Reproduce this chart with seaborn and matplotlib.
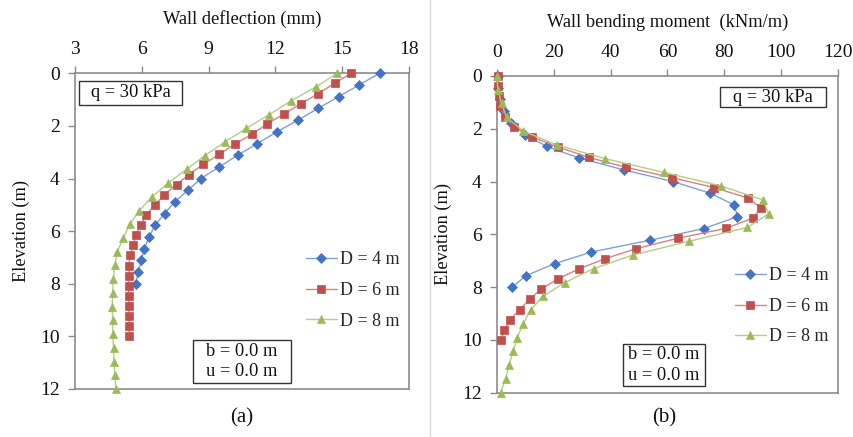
import numpy as np
import pandas as pd
import matplotlib
matplotlib.use("Agg")
import matplotlib.pyplot as plt
from matplotlib.lines import Line2D
from matplotlib.patches import Rectangle
import seaborn as sns

# ---------------- data ----------------
labels = ["D = 4 m", "D = 6 m", "D = 8 m"]

elev_d4 = [0.0, 0.44, 0.89, 1.33, 1.78, 2.22, 2.67, 3.11, 3.56, 4.0, 4.44, 4.89,
           5.33, 5.78, 6.22, 6.67, 7.11, 7.56, 8.0]
elev_d6 = [0.0, 0.38, 0.77, 1.15, 1.54, 1.92, 2.31, 2.69, 3.08, 3.46, 3.85, 4.23,
           4.62, 5.0, 5.38, 5.77, 6.15, 6.54, 6.92, 7.31, 7.69, 8.08, 8.46, 8.85,
           9.23, 9.62, 10.0]
elev_d8 = [0.0, 0.52, 1.04, 1.57, 2.09, 2.61, 3.13, 3.65, 4.17, 4.7, 5.22, 5.74,
           6.26, 6.78, 7.3, 7.83, 8.35, 8.87, 9.39, 9.91, 10.43, 10.96, 11.48, 12.0]

defl_d4 = [16.68, 15.76, 14.84, 13.92, 13.02, 12.08, 11.19, 10.31, 9.48, 8.65,
           8.08, 7.47, 7.02, 6.59, 6.33, 6.11, 5.98, 5.84, 5.72]
defl_d6 = [15.41, 14.66, 13.92, 13.17, 12.39, 11.64, 10.96, 10.18, 9.48, 8.76,
           8.11, 7.56, 7.01, 6.59, 6.19, 5.96, 5.74, 5.62, 5.47, 5.42, 5.42, 5.41,
           5.41, 5.41, 5.42, 5.43, 5.43]
defl_d8 = [14.78, 13.81, 12.72, 11.72, 10.70, 9.73, 8.83, 8.01, 7.19, 6.45, 5.89,
           5.47, 5.17, 4.90, 4.79, 4.72, 4.69, 4.67, 4.69, 4.70, 4.73, 4.75, 4.79,
           4.84]

mom_d4 = [0.3, 0.4, 1.2, 2.5, 5.0, 9.9, 17.5, 29.0, 44.7, 61.9, 75.0, 83.5, 84.6,
          72.8, 54.0, 33.2, 20.3, 10.3, 5.3]
mom_d6 = [0.5, 0.5, 0.6, 1.2, 2.8, 6.0, 12.4, 21.4, 32.2, 45.4, 61.5, 76.5, 88.2,
          92.9, 90.1, 80.7, 63.6, 49.0, 38.1, 28.8, 21.4, 15.5, 11.5, 8.0, 4.7,
          2.6, 1.4]
mom_d8 = [0.0, 0.3, 1.6, 3.4, 9.3, 21.0, 38.0, 58.6, 78.9, 93.6, 95.6, 88.1, 67.7,
          47.9, 34.0, 23.8, 16.2, 11.8, 9.2, 7.1, 5.7, 4.2, 3.0, 1.3]

x_ticks_a = [3, 6, 9, 12, 15, 18]
x_ticks_b = [0, 20, 40, 60, 80, 100, 120]
y_ticks = [0, 2, 4, 6, 8, 10, 12]

# ---------------- style ----------------
sns.set_theme(style="white")
plt.rcParams["font.family"] = ["Liberation Serif", "DejaVu Serif"]

mcolors = ["#4472C4", "#C0504D", "#9BBB59"]
lcolors = ["#7FA0D8", "#D9817F", "#B3CD85"]
markers = ["D", "s", "^"]
msizes = [5.6, 5.6, 6.2]
gray = "#8C8C8C"
txt = "#111111"

fig = plt.figure(figsize=(8.54, 4.37), dpi=100)
ax_a = fig.add_axes([75 / 854, (437 - 389) / 437, (409 - 75) / 854, (389 - 73.3) / 437])
ax_b = fig.add_axes([497 / 854, (437 - 392.7) / 437, (838 - 497) / 854, (392.7 - 76) / 437])


def draw(ax, xs_list, ys_list):
    for xs, ys, lab, mc, lc, m, ms in zip(xs_list, ys_list, labels, mcolors, lcolors,
                                           markers, msizes):
        df = pd.DataFrame({"x": xs, "y": ys})
        sns.lineplot(data=df, x="x", y="y", ax=ax, sort=False, orient="y",
                     color=lc, marker=m, markersize=ms, markerfacecolor=mc,
                     markeredgecolor=mc, markeredgewidth=0.5, linewidth=1.0,
                     label=lab, clip_on=False, zorder=3)


draw(ax_a, [defl_d4, defl_d6, defl_d8], [elev_d4, elev_d6, elev_d8])
draw(ax_b, [mom_d4, mom_d6, mom_d8], [elev_d4, elev_d6, elev_d8])


def style_axes(ax, xlim, xticks, xlabel):
    ax.set_xlim(*xlim)
    ax.set_ylim(12, 0)
    ax.set_xticks(xticks)
    ax.set_yticks(y_ticks)
    ax.xaxis.tick_top()
    ax.xaxis.set_label_position("top")
    ax.set_xlabel(xlabel, fontsize=13.2, labelpad=12, color=txt)
    ax.set_ylabel("Elevation (m)", fontsize=13.2, labelpad=7, color=txt)
    ax.tick_params(axis="both", which="major", direction="out", length=5, width=1,
                   color=gray, labelsize=14, labelcolor=txt, pad=6)
    ax.tick_params(axis="x", top=True, bottom=False, labeltop=True, labelbottom=False)
    ax.tick_params(axis="y", left=True, right=False)
    for sp in ax.spines.values():
        sp.set_visible(True)
        sp.set_color(gray)
        sp.set_linewidth(1.2)
    ax.grid(False)


style_axes(ax_a, (3, 18), x_ticks_a, "Wall deflection (mm)")
style_axes(ax_b, (0, 120), x_ticks_b, "Wall bending moment  (kNm/m)")


def text_box(ax, x0, y0, x1, y1, s):
    ax.add_patch(Rectangle((x0, y0), x1 - x0, y1 - y0, transform=ax.transAxes,
                           fc="white", ec="#333333", lw=1.0, zorder=4))
    ax.text((x0 + x1) / 2, (y0 + y1) / 2, s, transform=ax.transAxes, ha="center",
            va="center", fontsize=13.3, linespacing=1.25, color=txt, zorder=5)


text_box(ax_a, 0.012, 0.8996, 0.320, 0.9756, "q = 30 kPa")
text_box(ax_b, 0.654, 0.902, 0.965, 0.965, "q = 30 kPa")
text_box(ax_a, 0.353, 0.019, 0.647, 0.155, "b = 0.0 m\nu = 0.0 m")
text_box(ax_b, 0.3695, 0.021, 0.61, 0.154, "b = 0.0 m\nu = 0.0 m")

for ax, anchor in [(ax_a, (1.005, 0.47)), (ax_b, (1.005, 0.43))]:
    ax.legend(loc="upper right", bbox_to_anchor=anchor, frameon=False, fontsize=13,
              handlelength=1.7, handletextpad=0.2, labelspacing=0.75,
              borderaxespad=0.2)

fig.text(242 / 854, 1 - 418 / 437, "(a)", ha="center", va="center", fontsize=15,
         color=txt)
fig.text(664 / 854, 1 - 418 / 437, "(b)", ha="center", va="center", fontsize=15,
         color=txt)

fig.add_artist(Line2D([430 / 854, 430 / 854], [0, 1], transform=fig.transFigure,
                      color="#D9D9D9", lw=1.0))

fig.savefig("out.png", dpi=100)
